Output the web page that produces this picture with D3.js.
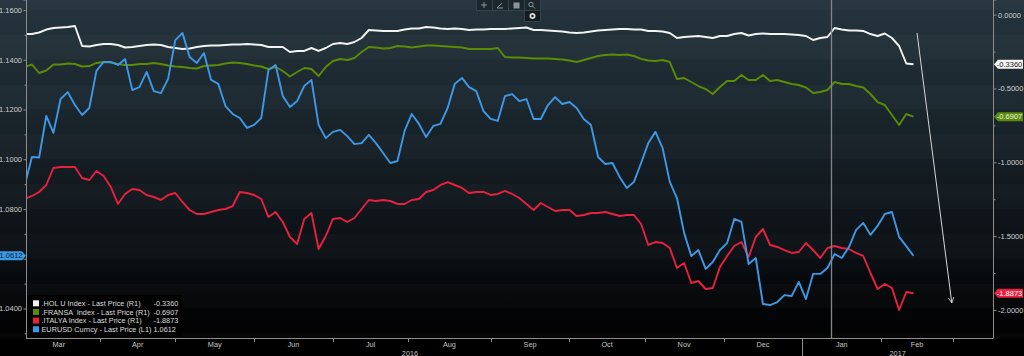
<!DOCTYPE html>
<html><head><meta charset="utf-8">
<script src="https://cdn.jsdelivr.net/npm/d3@7"></script>
<style>
html,body{margin:0;padding:0;background:#000;}
svg{display:block;font-family:"Liberation Sans",Arial,sans-serif;}
</style></head><body>
<svg id="chart" width="1024" height="356"></svg>
<script>
// ---------- DATA ----------
// samples every 2 weekdays starting 2016-03-03
const sampleStart = [2016, 2, 3];
const sampleStepWeekdays = 2;

const eurusd = [
1.0897,1.1009,1.1007,1.1174,1.1106,1.1242,1.1270,1.1218,1.1178,1.1206,
1.1355,1.1391,1.1391,1.1379,1.1403,1.1278,1.1290,1.1351,1.1274,1.1266,
1.1323,1.1479,1.1508,1.1411,1.1387,1.1427,1.1319,1.1303,1.1214,1.1182,
1.1166,1.1126,1.1138,1.1166,1.1359,1.1379,1.1254,1.1210,1.1234,1.1295,
1.1319,1.1138,1.1085,1.1110,1.1118,1.1093,1.1061,1.1065,1.1098,1.1065,
1.1025,1.0985,1.0993,1.1114,1.1182,1.1142,1.1089,1.1134,1.1142,1.1206,
1.1303,1.1327,1.1290,1.1274,1.1194,1.1162,1.1154,1.1254,1.1262,1.1234,
1.1242,1.1162,1.1162,1.1218,1.1250,1.1222,1.1230,1.1206,1.1162,1.1138,
1.1009,1.0981,1.0985,1.0929,1.0884,1.0909,1.0985,1.1065,1.1110,1.1045,
1.0909,1.0844,1.0704,1.0611,1.0635,1.0559,1.0587,1.0635,1.0663,1.0760,
1.0748,1.0579,1.0603,1.0418,1.0414,1.0426,1.0454,1.0450,1.0507,1.0438,
1.0539,1.0539,1.0563,1.0619,1.0603,1.0647,1.0716,1.0744,1.0696,1.0732,
1.0780,1.0788,1.0688,1.0651,1.0612];

const hol = [
-0.1308,-0.1308,-0.1206,-0.1003,-0.0901,-0.0867,-0.0833,-0.0766,-0.2121,-0.2154,
-0.2053,-0.1985,-0.1985,-0.2053,-0.2222,-0.2188,-0.2121,-0.2053,-0.2019,-0.2053,
-0.2188,-0.2256,-0.2324,-0.2290,-0.2188,-0.2121,-0.2087,-0.2087,-0.2053,-0.2019,
-0.2019,-0.1985,-0.2019,-0.2053,-0.2188,-0.2188,-0.2188,-0.2527,-0.2459,-0.2459,
-0.2256,-0.2459,-0.2256,-0.1985,-0.1917,-0.1985,-0.1850,-0.1579,-0.1037,-0.1070,
-0.1104,-0.1104,-0.1104,-0.1003,-0.0935,-0.0935,-0.0833,-0.0867,-0.0935,-0.0969,
-0.0935,-0.0969,-0.1037,-0.1003,-0.1003,-0.0969,-0.0969,-0.0969,-0.0935,-0.0901,
-0.0867,-0.1037,-0.1037,-0.1070,-0.1104,-0.1138,-0.1206,-0.1240,-0.1206,-0.1138,
-0.1070,-0.1037,-0.1003,-0.0969,-0.0969,-0.1003,-0.1003,-0.1104,-0.1104,-0.1138,
-0.1240,-0.1579,-0.1511,-0.1477,-0.1443,-0.1511,-0.1579,-0.1443,-0.1443,-0.1308,
-0.1240,-0.1409,-0.1308,-0.1274,-0.1308,-0.1308,-0.1308,-0.1341,-0.1375,-0.1443,
-0.1714,-0.1579,-0.1511,-0.0901,-0.1003,-0.1070,-0.1070,-0.1104,-0.1308,-0.1443,
-0.1274,-0.1579,-0.2121,-0.3306,-0.3360];

const fransa = [
-0.3543,-0.3374,-0.3950,-0.3780,-0.3374,-0.3374,-0.3306,-0.3340,-0.3509,-0.3476,
-0.3272,-0.3205,-0.3238,-0.3340,-0.3408,-0.3408,-0.3340,-0.3340,-0.3272,-0.3340,
-0.3442,-0.3509,-0.3543,-0.3611,-0.3645,-0.3476,-0.3442,-0.3408,-0.3306,-0.3238,
-0.3272,-0.3340,-0.3442,-0.3509,-0.3679,-0.3543,-0.3814,-0.4187,-0.3882,-0.3611,
-0.3679,-0.4153,-0.3543,-0.3137,-0.3001,-0.3069,-0.2934,-0.2527,-0.2188,-0.2222,
-0.2290,-0.2256,-0.2121,-0.2154,-0.2222,-0.2154,-0.2087,-0.2087,-0.2121,-0.2154,
-0.2188,-0.2222,-0.2324,-0.2324,-0.2324,-0.2324,-0.2256,-0.2866,-0.2900,-0.2900,
-0.2934,-0.2967,-0.2967,-0.2967,-0.3001,-0.3035,-0.3103,-0.3205,-0.3069,-0.2934,
-0.2798,-0.2730,-0.2696,-0.2730,-0.2696,-0.2798,-0.3001,-0.3103,-0.3137,-0.3069,
-0.3205,-0.4356,-0.4289,-0.4560,-0.4831,-0.5034,-0.5373,-0.4899,-0.4492,-0.4492,
-0.4085,-0.4424,-0.4424,-0.4085,-0.4492,-0.4424,-0.4560,-0.4695,-0.4763,-0.4932,
-0.5305,-0.5237,-0.5102,-0.4560,-0.4695,-0.4695,-0.4831,-0.4932,-0.5373,-0.5915,
-0.6118,-0.6795,-0.7473,-0.6727,-0.6907];

const italya = [
-1.2486,-1.2283,-1.2012,-1.1538,-1.0386,-1.0318,-1.0318,-1.0318,-1.1064,-1.1199,
-1.0589,-1.0928,-1.1673,-1.2825,-1.2147,-1.1809,-1.1877,-1.2215,-1.2351,-1.2554,
-1.2215,-1.2080,-1.2689,-1.3232,-1.3503,-1.3503,-1.3367,-1.3232,-1.3164,-1.2961,
-1.2012,-1.2080,-1.2215,-1.2486,-1.3706,-1.3367,-1.4045,-1.5061,-1.5535,-1.3841,
-1.3435,-1.5874,-1.4993,-1.3841,-1.3774,-1.4045,-1.3774,-1.3164,-1.2554,-1.2622,
-1.2554,-1.2622,-1.2825,-1.2825,-1.2554,-1.2486,-1.2012,-1.1877,-1.1538,-1.1335,
-1.1538,-1.1741,-1.2080,-1.2012,-1.2012,-1.2215,-1.2147,-1.1944,-1.2147,-1.2419,
-1.2825,-1.3232,-1.2757,-1.3028,-1.3299,-1.3232,-1.3232,-1.3638,-1.3570,-1.3435,
-1.3435,-1.3367,-1.3503,-1.3638,-1.3570,-1.3570,-1.4180,-1.5603,-1.5400,-1.5467,
-1.5806,-1.7161,-1.6822,-1.8177,-1.8042,-1.8584,-1.8516,-1.7093,-1.6348,-1.5671,
-1.5400,-1.6416,-1.5061,-1.4519,-1.5603,-1.5738,-1.5942,-1.6145,-1.6077,-1.5467,
-1.5942,-1.6484,-1.5806,-1.5671,-1.5806,-1.5874,-1.6145,-1.6348,-1.7500,-1.8584,
-1.8245,-1.8516,-2.0007,-1.8787,-1.8873];

const seriesLabels = [".HOL U Index - Last Price (R1)", ".FRANSA  Index - Last Price (R1)", ".ITALYA Index - Last Price (R1)", "EURUSD Curncy - Last Price (L1)"];
const seriesColors = ["#f2f2f2", "#5b8c05", "#e8213f", "#3d98e6"];
const lastLabels = ["-0.3360", "-0.6907", "-1.8873", "1.0612"];

const leftTicks = [1.04, 1.06, 1.08, 1.10, 1.12, 1.14, 1.16];
const leftHiddenLabel = 1.06; // covered by the last-value tag
const leftMinor = [1.03, 1.05, 1.07, 1.09, 1.11, 1.13, 1.15];
const rightTicks = [0, -0.5, -1.0, -1.5, -2.0];
const rightMinor = [-0.25, -0.75, -1.25, -1.75];
const monthStarts = [[2016,2],[2016,3],[2016,4],[2016,5],[2016,6],[2016,7],[2016,8],[2016,9],[2016,10],[2016,11],[2017,0],[2017,1],[2017,2]];
const monthLabels = ["Mar","Apr","May","Jun","Jul","Aug","Sep","Oct","Nov","Dec","Jan","Feb"];
const yearLabels = ["2016", "2017"];
const cursorDate = [2017, 0, 12];

// ---------- SETUP ----------
const plot = {left: 26, right: 993, top: 0, bottom: 338};
const svg = d3.select("#chart");
const origin = Date.UTC(2016, 2, 1);
function wd(y, m, d) { // weekdays since 2016-03-01
  const t = Date.UTC(y, m, d); let n = 0;
  for (let u = origin; u < t; u += 864e5) { const g = new Date(u).getUTCDay(); if (g !== 0 && g !== 6) n++; }
  return n;
}
const x = d3.scaleLinear().domain([2.34, 272.2]).range([plot.left, plot.right]);
const yL = d3.scaleLinear().domain([1.02814, 1.16402]).range([plot.bottom, plot.top]);
const yR = d3.scaleLinear().domain([-2.1904, 0.0996]).range([plot.bottom, plot.top]);
const i0 = wd(...sampleStart);
const idx = k => i0 + k * sampleStepWeekdays;

// ---------- BACKGROUND ----------
const defs = svg.append("defs");
const grad = defs.append("linearGradient").attr("id", "bg").attr("x1", 0).attr("y1", 0).attr("x2", 0).attr("y2", 1);
[[0, "#25343d"], [0.3, "#1b272e"], [0.6, "#10171c"], [0.78, "#0a0e12"], [0.88, "#040507"], [1, "#020203"]]
  .forEach(([o, c]) => grad.append("stop").attr("offset", o).attr("stop-color", c));
svg.append("rect").attr("width", 1024).attr("height", 356).attr("fill", "#000");
svg.append("rect").attr("x", 0).attr("y", 0).attr("width", 1024).attr("height", plot.bottom).attr("fill", "url(#bg)");
const bandEdges = d3.range(1.02, 1.17, 0.01);
svg.append("g").selectAll("rect").data(bandEdges.filter((d, i) => i % 2 === 0)).join("rect")
  .attr("x", 0).attr("width", 1024)
  .attr("y", d => Math.max(0, yL(d + 0.01)))
  .attr("height", d => Math.max(0, Math.min(plot.bottom, yL(d)) - Math.max(0, yL(d + 0.01))))
  .attr("fill", "#ffffff").attr("opacity", 0.018);

// ---------- TOOLBAR ----------
const tb = svg.append("g");
tb.append("rect").attr("x", 476.5).attr("y", -1).attr("width", 64).attr("height", 11.5).attr("fill", "#1c262d").attr("stroke", "#34424b");
[492.5, 508.5, 524.5].forEach(sx => tb.append("line").attr("x1", sx).attr("x2", sx).attr("y1", 0).attr("y2", 10).attr("stroke", "#34424b"));
tb.append("rect").attr("x", 524.5).attr("y", 10.5).attr("width", 16).attr("height", 11).attr("fill", "#141b20").attr("stroke", "#34424b");
tb.append("path").attr("d", "M481,5H487M484,2V8").attr("stroke", "#8a959c").attr("stroke-width", 1);
tb.append("path").attr("d", "M497,8L502,3M497,8H503").attr("stroke", "#8a959c").attr("stroke-width", 1);
tb.append("rect").attr("x", 513.5).attr("y", 2.5).attr("width", 6).attr("height", 6).attr("fill", "#8a959c");
tb.append("circle").attr("cx", 531).attr("cy", 4.5).attr("r", 2.2).attr("fill", "none").attr("stroke", "#8a959c");
tb.append("path").attr("d", "M532.5,6L535,8.5").attr("stroke", "#8a959c");
tb.append("circle").attr("cx", 532.5).attr("cy", 16).attr("r", 3).attr("fill", "#d8d8d8");
tb.append("circle").attr("cx", 532.5).attr("cy", 16).attr("r", 1.2).attr("fill", "#141b20");

// ---------- LINES ----------
defs.append("clipPath").attr("id", "clip").append("rect")
  .attr("x", plot.left).attr("y", 0).attr("width", plot.right - plot.left).attr("height", plot.bottom);
const lines = svg.append("g").attr("clip-path", "url(#clip)");
const series = [
  {vals: hol, y: yR, color: seriesColors[0]},
  {vals: fransa, y: yR, color: seriesColors[1]},
  {vals: italya, y: yR, color: seriesColors[2]},
  {vals: eurusd, y: yL, color: seriesColors[3]}
];
series.forEach(s => {
  const line = d3.line().x((d, k) => x(idx(k))).y(d => s.y(d));
  lines.append("path").attr("d", line(s.vals)).attr("fill", "none")
    .attr("stroke", s.color).attr("stroke-width", 1.9).attr("stroke-linejoin", "round");
});

// cursor line
const cx = Math.round(x(wd(...cursorDate))) + 0.5;
svg.append("line").attr("x1", cx).attr("x2", cx).attr("y1", 0).attr("y2", plot.bottom)
  .attr("stroke", "#80868a").attr("stroke-width", 1.3);

// ---------- AXES ----------
const fmt = d => (Math.abs(d) < 1e-9 ? 0 : d).toFixed(4);
function styleAxis(g) {
  g.selectAll(".domain").attr("stroke", "#8d8d8d");
  g.selectAll(".tick line").attr("stroke", "#8d8d8d");
  g.selectAll(".tick text").attr("fill", "#cfcfcf").attr("font-size", "7.5px").attr("font-family", "Liberation Sans, Arial, sans-serif");
}
const gl = svg.append("g").attr("transform", `translate(${plot.left + 0.5},0)`)
  .call(d3.axisLeft(yL).tickValues(leftTicks).tickSize(3).tickPadding(1.5)
    .tickFormat(d => Math.abs(d - leftHiddenLabel) < 1e-9 ? "" : fmt(d)));
styleAxis(gl);
const glm = svg.append("g").attr("transform", `translate(${plot.left + 0.5},0)`)
  .call(d3.axisLeft(yL).tickValues(leftMinor).tickSize(2).tickFormat(""));
styleAxis(glm); glm.select(".domain").remove();

const gr = svg.append("g").attr("transform", `translate(${plot.right + 0.5},0)`)
  .call(d3.axisRight(yR).tickValues(rightTicks).tickSize(3).tickPadding(1.5).tickFormat(fmt));
styleAxis(gr);
const grm = svg.append("g").attr("transform", `translate(${plot.right + 0.5},0)`)
  .call(d3.axisRight(yR).tickValues(rightMinor).tickSize(2).tickFormat(""));
styleAxis(grm); grm.select(".domain").remove();
gl.select(".domain").attr("d", `M-3,0H0V${plot.bottom}`);
gr.select(".domain").attr("d", `M3,0H0V${plot.bottom}`);

// bottom axis (weekday scale, month boundaries)
const gb = svg.append("g");
gb.append("line").attr("x1", plot.left).attr("x2", plot.right + 0.5).attr("y1", plot.bottom + 0.5).attr("y2", plot.bottom + 0.5).attr("stroke", "#8d8d8d");
const mx = monthStarts.map(([yy, mm]) => x(wd(yy, mm, 1)));
gb.selectAll("line.mt").data(mx.slice(1)).join("line").attr("class", "mt")
  .attr("x1", d => Math.round(d) + 0.5).attr("x2", d => Math.round(d) + 0.5)
  .attr("y1", plot.bottom).attr("y2", (d, i) => monthStarts[i + 1][1] === 0 ? 356 : plot.bottom + 4)
  .attr("stroke", "#8d8d8d");
gb.selectAll("text.ml").data(monthLabels).join("text").attr("class", "ml")
  .attr("x", (d, i) => (mx[i] + mx[i + 1]) / 2).attr("y", 347)
  .attr("text-anchor", "middle").attr("fill", "#c4c4c4").attr("font-size", "7.3px").text(d => d);
const yearBreak = x(wd(2017, 0, 1));
const yearPos = [(x(wd(2016, 2, 1)) + yearBreak) / 2, (yearBreak + plot.right) / 2];
gb.selectAll("text.yl").data(yearLabels).join("text").attr("class", "yl")
  .attr("x", (d, i) => yearPos[i]).attr("y", 355.5)
  .attr("text-anchor", "middle").attr("fill", "#c4c4c4").attr("font-size", "7.3px").text(d => d);

// ---------- LAST-VALUE TAGS ----------
const rightTags = [
  {v: hol[hol.length - 1], label: lastLabels[0], fill: "#f4f4f4", text: "#1a1a1a"},
  {v: fransa[fransa.length - 1], label: lastLabels[1], fill: "#5b8c05", text: "#f0f0f0"},
  {v: italya[italya.length - 1], label: lastLabels[2], fill: "#e8213f", text: "#ffffff"}
];
rightTags.forEach(t => {
  const cy = yR(t.v);
  svg.append("path").attr("d", `M${plot.right + 1},${cy}L${plot.right + 5},${cy - 4.5}H1023V${cy + 4.5}H${plot.right + 5}Z`).attr("fill", t.fill);
  svg.append("text").attr("x", 1009.5).attr("y", cy + 2.6).attr("text-anchor", "middle")
    .attr("fill", t.text).attr("font-size", "7.5px").text(t.label);
});
{
  const cy = yL(eurusd[eurusd.length - 1]);
  svg.append("path").attr("d", `M0,${cy - 4.5}H${plot.left - 4}L${plot.left},${cy}L${plot.left - 4},${cy + 4.5}H0Z`).attr("fill", "#3d98e6");
  svg.append("text").attr("x", 11).attr("y", cy + 2.6).attr("text-anchor", "middle")
    .attr("fill", "#0b2238").attr("font-size", "7.5px").text(lastLabels[3]);
}

// ---------- ANNOTATION ARROW ----------
const arrowFrom = [251, -0.124], arrowTo = [260.7, -1.953];
defs.append("marker").attr("id", "ah").attr("viewBox", "0 0 10 10").attr("refX", 9).attr("refY", 5)
  .attr("markerWidth", 7).attr("markerHeight", 7).attr("orient", "auto").attr("markerUnits", "userSpaceOnUse")
  .append("path").attr("d", "M1,1L9,5L1,9").attr("fill", "none").attr("stroke", "#d6d6d6").attr("stroke-width", 1.2);
svg.append("line").attr("x1", x(arrowFrom[0])).attr("y1", yR(arrowFrom[1])).attr("x2", x(arrowTo[0])).attr("y2", yR(arrowTo[1]))
  .attr("stroke", "#d6d6d6").attr("stroke-width", 1).attr("marker-end", "url(#ah)");

// ---------- LEGEND ----------
const lg = svg.append("g");
lg.append("rect").attr("x", 27).attr("y", 295).attr("width", 155).attr("height", 41.5).attr("fill", "#020202").attr("opacity", 0.92);
seriesLabels.forEach((lab, i) => {
  const cy = 303.3 + i * 8.65;
  lg.append("rect").attr("x", 33).attr("y", cy - 3).attr("width", 6).attr("height", 6).attr("fill", seriesColors[i]);
  lg.append("text").attr("x", 41.5).attr("y", cy + 2.6).attr("fill", "#dcdcdc").attr("font-size", "7.3px").attr("xml:space", "preserve").text(lab);
  lg.append("text").attr("x", 153.5).attr("y", cy + 2.6).attr("fill", "#dcdcdc").attr("font-size", "7.3px").text(lastLabels[i]);
});
</script>
</body></html>
